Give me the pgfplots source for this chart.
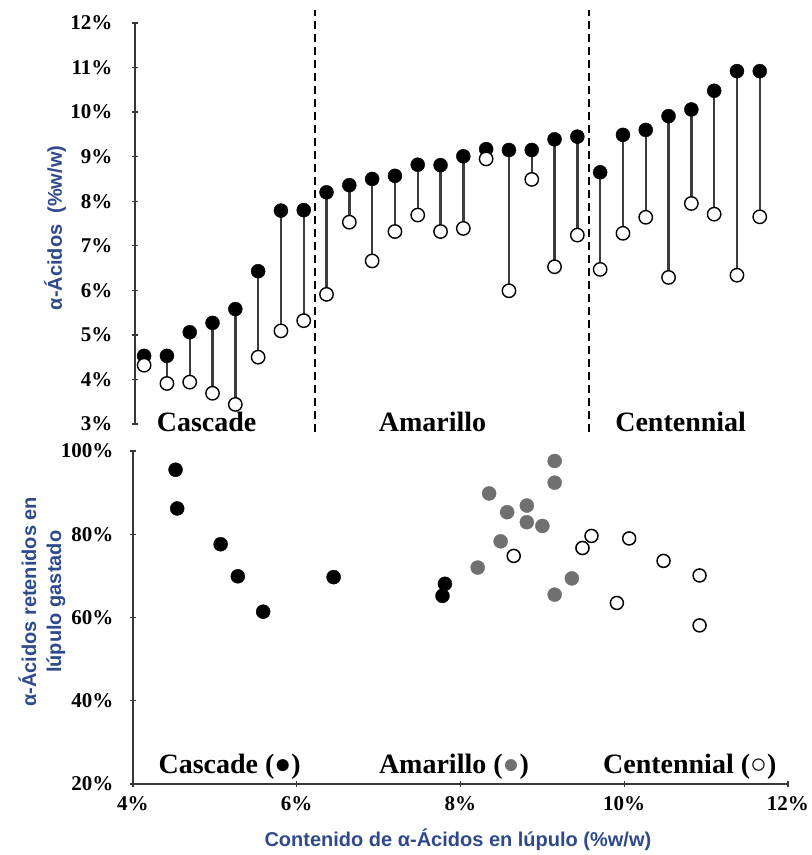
\documentclass[border=0pt]{standalone}
\usepackage{pgfplots}
\pgfplotsset{compat=1.18}
\usepackage{pgfplotstable}
\usepackage{fontspec}
\setmainfont{Liberation Serif}
\setsansfont{Liberation Sans}
\definecolor{lblue}{RGB}{46,74,140}
\definecolor{stem}{RGB}{60,60,60}
\definecolor{dotgray}{RGB}{112,112,112}
\definecolor{axgray}{RGB}{55,55,55}

\pgfplotstableread{
i f o
1 4.53 4.32
2 4.53 3.91
3 5.06 3.94
4 5.27 3.69
5 5.58 3.44
6 6.43 4.50
7 7.79 5.09
8 7.80 5.32
9 8.20 5.91
10 8.36 7.53
11 8.50 6.66
12 8.57 7.32
13 8.82 7.69
14 8.81 7.32
15 9.01 7.39
16 9.17 8.95
17 9.15 5.99
18 9.15 8.49
19 9.39 6.53
20 9.45 7.24
21 8.65 6.47
22 9.49 7.28
23 9.60 7.64
24 9.91 6.29
25 10.06 7.95
26 10.48 7.71
27 10.92 6.34
28 10.92 7.65
}\topdata

\pgfplotstableread{
x y
4.52 95.5
4.54 86.2
5.07 77.6
5.28 69.9
5.59 61.4
6.45 69.7
7.78 65.2
7.81 68.1
}\cascade

\pgfplotstableread{
x y
8.21 72.0
8.35 89.8
8.49 78.3
8.57 85.3
8.81 86.9
8.81 82.9
9.00 82.0
9.15 97.6
9.15 65.5
9.15 92.4
9.36 69.4
9.49 76.7
}\amarillo

\pgfplotstableread{
x y
8.65 74.8
9.49 76.7
9.60 79.6
9.91 63.5
10.06 79.0
10.48 73.6
10.92 58.1
10.92 70.1
}\centennial

\begin{document}
\begin{tikzpicture}
\useasboundingbox (0pt,0pt) rectangle (812pt,-855pt);
\pgfplotsset{
  common/.style={
    scale only axis, clip=false, tick align=inside,
    major tick length=6pt,
    every tick/.style={axgray, line width=1.4pt},
    tick label style={font=\fontsize{21}{21}\selectfont\bfseries},
    /pgf/number format/assume math mode=true,
  },
  noarrows/.style={
    axis line style={axgray, line width=1.6pt, -},
    every outer x axis line/.append style={-},
    every outer y axis line/.append style={-},
    every inner x axis line/.append style={-},
    every inner y axis line/.append style={-},
  },
}
% ---------- top panel ----------
\begin{axis}[common,
  at={(135pt,-424pt)}, anchor=south west,
  width=654.4pt, height=401pt,
  xmin=0.6, xmax=29.3, ymin=3, ymax=12,
  axis x line=none, axis y line=left,
  noarrows,
  ytick={3,4,...,12},
  yticklabel={\pgfmathprintnumber{\tick}\%},
  yticklabel style={xshift=-16pt},
  ylabel={α-Ácidos\ \ (\%w/w)},
  ylabel style={at={(axis description cs:-0.122,0.489)}, anchor=center,
    font=\sffamily\bfseries\fontsize{20}{20}\selectfont, text=lblue},
]
\addplot[black, line width=1.6pt, dash pattern=on 8pt off 5pt] coordinates {(8.5,2.82) (8.5,12.29)};
\addplot[black, line width=1.6pt, dash pattern=on 8pt off 5pt] coordinates {(20.5,2.82) (20.5,12.29)};
\addplot[only marks, mark=none,
  error bars/.cd, y dir=plus, y explicit, error mark=none,
  error bar style={stem, line width=2.4pt}]
  table[x=i, y=o, y error plus expr=\thisrow{f}-\thisrow{o}] {\topdata};
\addplot[only marks, mark=*, mark size=7pt, mark options={fill=black, draw=black}]
  table[x=i, y=f] {\topdata};
\addplot[only marks, mark=*, mark size=6.7pt, mark options={fill=white, draw=black, line width=1.4pt}]
  table[x=i, y=o] {\topdata};
\node[anchor=base, font=\fontsize{28}{28}\selectfont\bfseries] at (axis cs:3.74,2.84) {Cascade};
\node[anchor=base, font=\fontsize{28}{28}\selectfont\bfseries] at (axis cs:13.65,2.84) {Amarillo};
\node[anchor=base, font=\fontsize{28}{28}\selectfont\bfseries] at (axis cs:24.53,2.84) {Centennial};
\end{axis}
% ---------- bottom panel ----------
\begin{axis}[common,
  at={(133pt,-784pt)}, anchor=south west,
  width=655pt, height=333pt,
  xmin=4, xmax=12, ymin=20, ymax=100,
  axis x line=bottom, axis y line=left,
  noarrows,
  xtick={4,6,...,12}, ytick={20,40,...,100},
  xticklabel={\pgfmathprintnumber{\tick}\%},
  yticklabel={\pgfmathprintnumber{\tick}\%},
  xticklabel style={yshift=-6pt},
  yticklabel style={xshift=-13pt},
  xlabel={Contenido de α-Ácidos en lúpulo (\%w/w)},
  xlabel style={at={(axis description cs:0.496,-0.168)}, anchor=center,
    font=\sffamily\bfseries\fontsize{20}{20}\selectfont, text=lblue},
  ylabel={α-Ácidos retenidos en\\lúpulo gastado},
  ylabel style={at={(axis description cs:-0.139,0.547)}, anchor=center, align=center,
    font=\sffamily\bfseries\fontsize{20}{25}\selectfont, text=lblue},
]
\addplot[only marks, mark=*, mark size=7pt, mark options={fill=black, draw=black}] table[x=x,y=y] {\cascade};
\addplot[only marks, mark=*, mark size=7pt, mark options={fill=dotgray, draw=dotgray}] table[x=x,y=y] {\amarillo};
\addplot[only marks, mark=*, mark size=6.5pt, mark options={fill=white, draw=black, line width=1.5pt}] table[x=x,y=y] {\centennial};
\node[anchor=base, font=\fontsize{28}{28}\selectfont\bfseries] at (axis cs:5.18,22.6) {Cascade (●)};
\node[anchor=base, font=\fontsize{28}{28}\selectfont\bfseries] at (axis cs:7.92,22.6) {Amarillo (\textcolor{dotgray}{●})};
\node[anchor=base, font=\fontsize{28}{28}\selectfont\bfseries] at (axis cs:10.80,22.6) {Centennial (○)};
\end{axis}
\end{tikzpicture}
\end{document}
